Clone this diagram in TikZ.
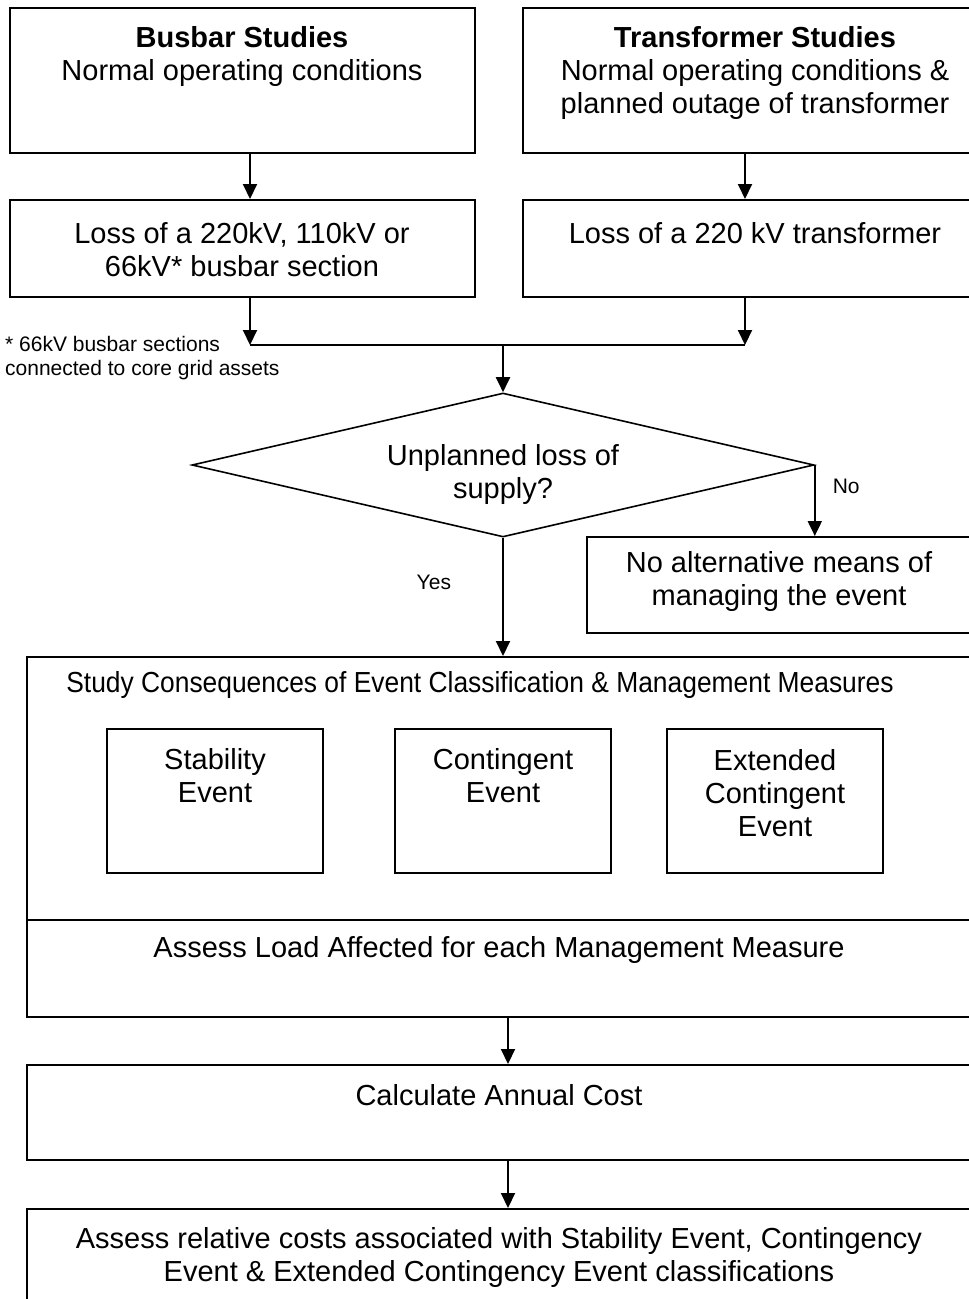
\documentclass[tikz,border=0pt]{standalone}
\usepackage{graphicx}
\usepackage{fontspec}
\setmainfont{Liberation Sans}
\usetikzlibrary{arrows.meta,shapes.geometric}

\begin{document}
\begin{tikzpicture}[x=1pt,y=-1pt,>={Triangle[width=14pt,length=15pt]}]

\tikzstyle{box}=[rectangle,draw,line width=2pt,inner sep=0pt]
\tikzstyle{txt}=[align=center,inner sep=0pt,font=\fontsize{29}{33}\selectfont]
\tikzstyle{note}=[align=left,inner sep=0pt,font=\fontsize{21}{24}\selectfont]
\tikzstyle{flow}=[->,line width=2pt]
\tikzstyle{line}=[line width=2pt]

  \useasboundingbox (0,0) rectangle (969,1299);
  \clip (0,0) rectangle (969,1299);

  %% boxes
  \node (busbar)  at (242.5,80.5)  [box,minimum width=465pt,minimum height=145pt] {};
  \node (trans)   at (755,80.5)    [box,minimum width=464pt,minimum height=145pt] {};
  \node (lossbus) at (242.5,248.5) [box,minimum width=465pt,minimum height=97pt] {};
  \node (losstr)  at (755,248.5)   [box,minimum width=464pt,minimum height=97pt] {};

  \node (dec) at (503,465) [diamond,draw,line width=1.6pt,inner sep=0pt,aspect=4.3,
         minimum width=622pt,minimum height=144pt] {};

  \node (noalt)  at (779,585)    [box,minimum width=384pt,minimum height=96pt] {};
  \node (study)  at (499,837)    [box,minimum width=944pt,minimum height=360pt] {};
  \node (stab)   at (215,801)    [box,minimum width=216pt,minimum height=144pt] {};
  \node (cont)   at (503,801)    [box,minimum width=216pt,minimum height=144pt] {};
  \node (ext)    at (775,801)    [box,minimum width=216pt,minimum height=144pt] {};
  \node (calc)   at (499,1112.5) [box,minimum width=944pt,minimum height=95pt] {};
  \node (assess) at (499,1269.5) [box,minimum width=944pt,minimum height=121pt] {};

  \coordinate (split) at (0,920);
  \draw [line] (study.west |- split) -- (study.east |- split);

  %% texts
  \node (busbartxt)  at (242,56.5)  [txt] {\textbf{Busbar Studies}\\Normal operating conditions};
  \node (transtxt)   at (755,73)    [txt] {\textbf{Transformer Studies}\\Normal operating conditions \&\\planned outage of transformer};
  \node (lossbustxt) at (242,249.5) [txt] {Loss of a 220kV, 110kV or\\66kV* busbar section};
  \node (losstrtxt)  at (755,233)   [txt] {Loss of a 220 kV transformer};
  \node (foot)       at (5,358)     [note,anchor=west] {* 66kV busbar sections\\connected to core grid assets};
  \node (dectxt)     at (503,474)   [txt] {Unplanned loss of\\supply?};
  \node (noalttxt)   at (779,581)   [txt] {No alternative means of\\managing the event};
  \node (studytxt)   at (480,685)   [txt] {\scalebox{0.91}[1]{Study Consequences of Event Classification \& Management Measures}};
  \node (stabtxt)    at (215,776)   [txt] {Stability\\Event};
  \node (conttxt)    at (503,776)   [txt] {Contingent\\Event};
  \node (exttxt)     at (775,793)   [txt] {Extended\\Contingent\\Event};
  \node (loadtxt)    at (499,950)   [txt] {Assess Load Affected for each Management Measure};
  \node (calctxt)    at (499,1095)  [txt] {Calculate Annual Cost};
  \node (assesstxt)  at (499,1257)  [txt] {Assess relative costs associated with Stability Event, Contingency\\Event \& Extended Contingency Event classifications};

  %% connectors
  \coordinate (joinL) at (250,345);
  \coordinate (joinR) at (745,345);
  \coordinate (join)  at (503,345);

  \path (busbar.south -| joinL)  edge [flow] (lossbus.north -| joinL)
        (trans.south -| joinR)   edge [flow] (losstr.north -| joinR)
        (lossbus.south -| joinL) edge [flow] (joinL)
        (losstr.south -| joinR)  edge [flow] (joinR)
        (joinL) edge [line] (joinR)
        (join)  edge [flow] (dec.north)

        (dec.east)  edge [flow] node[note,pos=0.3,anchor=west,xshift=17pt] {No} (dec.east |- noalt.north)
        (dec.south) edge [flow] node[note,pos=0.375,anchor=east,xshift=-51pt] {Yes} (study.north -| dec.south)

        ([xshift=9pt]study.south) edge [flow] ([xshift=9pt]calc.north)
        ([xshift=9pt]calc.south)  edge [flow] ([xshift=9pt]assess.north);

\end{tikzpicture}
\end{document}
